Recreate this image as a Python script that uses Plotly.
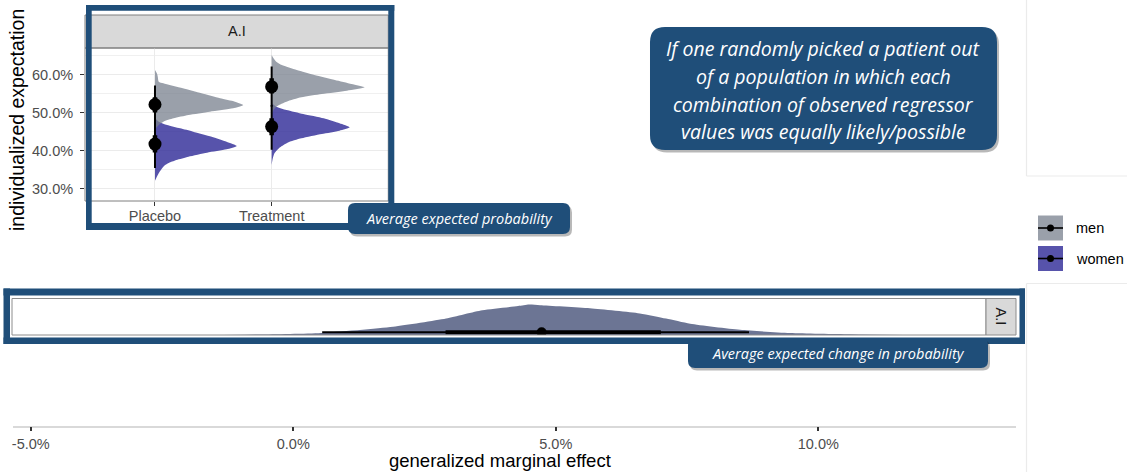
import plotly.graph_objects as go

W, H = 1127, 472

# ---------------- data ----------------
conditions = ["Placebo", "Treatment"]
cond_pos = [1, 2]
groups = ["men", "women"]

# individualized expectation: half-eye density outlines (value, relative density)
pl_men_val = [0.6118, 0.603, 0.5943, 0.5811, 0.5768, 0.5636, 0.5504, 0.5373, 0.5285, 0.5197,
              0.5110, 0.5022, 0.4934, 0.4847, 0.4759, 0.4671, 0.4583, 0.4496]
pl_men_den = [0, .02, .03, .04, .09, .30, .50, .70, .86, .95, .84, .59, .36, .20, .09, .04, .01, 0]
pl_wom_val = [0.4847, 0.4759, 0.4671, 0.4583, 0.4496, 0.4364, 0.4232, 0.4118, 0.4031, 0.3943,
              0.3838, 0.3750, 0.3662, 0.3575, 0.3443, 0.3311, 0.3206]
pl_wom_den = [0, .04, .13, .27, .41, .61, .77, .88, .77, .56, .36, .23, .14, .09, .05, .02, 0]
tr_men_val = [0.6513, 0.6426, 0.6338, 0.625, 0.6118, 0.5987, 0.5855, 0.575, 0.5662, 0.5574,
              0.5487, 0.5399, 0.5285, 0.5171, 0.5066, 0.4961]
tr_men_den = [0, .02, .05, .11, .27, .46, .68, .86, 1.0, .81, .54, .32, .16, .06, .02, 0]
tr_wom_val = [0.5241, 0.5154, 0.5066, 0.4961, 0.4847, 0.4715, 0.4609, 0.4522, 0.4434, 0.432,
              0.4206, 0.4083, 0.3926, 0.3768, 0.3618]
tr_wom_den = [0, .05, .16, .34, .56, .73, .84, .73, .54, .32, .17, .09, .03, .01, 0]

# point estimates and intervals  [placebo, treatment]
men_point = [0.521, 0.568]
men_lo66 = [0.500, 0.550]
men_hi66 = [0.540, 0.590]
men_lo95 = [0.470, 0.515]
men_hi95 = [0.571, 0.621]
wom_point = [0.417, 0.463]
wom_lo66 = [0.395, 0.440]
wom_hi66 = [0.440, 0.485]
wom_lo95 = [0.354, 0.402]
wom_hi95 = [0.475, 0.520]

# generalized marginal effect density
me_val = [-0.0147, -0.0063, 0.0053, 0.0190, 0.0291, 0.0360, 0.0428, 0.0449, 0.0470, 0.0565,
          0.0660, 0.0710, 0.0756, 0.0851, 0.0946, 0.1060, 0.1188]
me_den = [0, .017, .068, .27, .54, .81, .95, 1.0, .98, .88, .71, .54, .37, .17, .068, .027, 0]
me_point = 0.0473
me_lo66, me_hi66 = 0.029, 0.070
me_lo95, me_hi95 = 0.0055, 0.0868

y_ticks = [0.3, 0.4, 0.5, 0.6]
x_ticks = [-0.05, 0.0, 0.05, 0.10]
x_ticktext = [f"{v * 100:.1f}%" for v in x_ticks]

# ---------------- style ----------------
MEN_FILL = "rgba(120,128,142,0.75)"
WOM_FILL = "rgba(45,40,150,0.80)"
ME_FILL = "rgb(108,117,148)"
BLUE = "#1F4E79"
FONT = "Liberation Sans, Arial, sans-serif"
CFONT = "Open Sans, sans-serif"
WSCALE = 0.797


def px(x):
    return x / W


def py(y):
    return 1 - y / H


fig = go.Figure()

# densities (women first, men on top)
dens_sets = [
    (1, pl_wom_val, pl_wom_den, WOM_FILL),
    (2, tr_wom_val, tr_wom_den, WOM_FILL),
    (1, pl_men_val, pl_men_den, MEN_FILL),
    (2, tr_men_val, tr_men_den, MEN_FILL),
]
for base, vals, dens, col in dens_sets:
    fig.add_trace(go.Scatter(
        x=[base + d * WSCALE for d in dens], y=vals, mode="lines", fill="toself",
        fillcolor=col, line=dict(width=0, shape="spline", smoothing=0.6),
        hoverinfo="skip", showlegend=False, xaxis="x", yaxis="y"))

# intervals
for i, c in enumerate(cond_pos):
    for lo95, hi95, lo66, hi66, pt in [
        (men_lo95, men_hi95, men_lo66, men_hi66, men_point),
        (wom_lo95, wom_hi95, wom_lo66, wom_hi66, wom_point),
    ]:
        fig.add_trace(go.Scatter(x=[c, c], y=[lo95[i], hi95[i]], mode="lines",
                                 line=dict(color="black", width=2), showlegend=False,
                                 hoverinfo="skip", xaxis="x", yaxis="y"))
        fig.add_trace(go.Scatter(x=[c, c], y=[lo66[i], hi66[i]], mode="lines",
                                 line=dict(color="black", width=4.5), showlegend=False,
                                 hoverinfo="skip", xaxis="x", yaxis="y"))
        fig.add_trace(go.Scatter(x=[c], y=[pt[i]], mode="markers",
                                 marker=dict(color="black", size=13), showlegend=False,
                                 hoverinfo="skip", xaxis="x", yaxis="y"))

# marginal effect density
fig.add_trace(go.Scatter(x=me_val, y=me_den, mode="lines", fill="toself", fillcolor=ME_FILL,
                         line=dict(width=0, shape="spline", smoothing=0.6), hoverinfo="skip",
                         showlegend=False, xaxis="x2", yaxis="y2"))
IY = 0.09
fig.add_trace(go.Scatter(x=[me_lo95, me_hi95], y=[IY, IY], mode="lines",
                         line=dict(color="black", width=2), showlegend=False, hoverinfo="skip",
                         xaxis="x2", yaxis="y2"))
fig.add_trace(go.Scatter(x=[me_lo66, me_hi66], y=[IY, IY], mode="lines",
                         line=dict(color="black", width=4), showlegend=False, hoverinfo="skip",
                         xaxis="x2", yaxis="y2"))
fig.add_trace(go.Scatter(x=[me_point], y=[IY], mode="markers",
                         marker=dict(color="black", size=10), showlegend=False, hoverinfo="skip",
                         xaxis="x2", yaxis="y2"))
# dummy for bottom axis
fig.add_trace(go.Scatter(x=[0], y=[0.5], mode="markers", marker=dict(opacity=0),
                         showlegend=False, hoverinfo="skip", xaxis="x3", yaxis="y3"))

tickfont = dict(family=FONT, size=14.5, color="#4D4D4D")
fig.update_layout(
    width=W, height=H, margin=dict(l=0, r=0, t=0, b=0),
    paper_bgcolor="white", plot_bgcolor="white", showlegend=False,
    xaxis=dict(domain=[px(85), px(388.3)], range=[0.4, 3.0], tickvals=cond_pos,
               ticktext=conditions, ticks="outside", ticklen=4, tickcolor="#333333",
               tickfont=tickfont, showgrid=True, gridcolor="#EBEBEB", gridwidth=1.3,
               ticklabelstandoff=-2,
               zeroline=False, showline=False, anchor="y", fixedrange=True),
    yaxis=dict(domain=[py(201), py(48)], range=[0.2671, 0.6697], tickvals=y_ticks,
               tickformat=".1%", ticks="outside", ticklen=4, tickcolor="#333333",
               tickfont=tickfont, showgrid=True, gridcolor="#EBEBEB", gridwidth=1.3,
               ticklabelstandoff=4,
               minor=dict(tickvals=[0.35, 0.45, 0.55, 0.65], showgrid=True,
                          gridcolor="#F0F0F0", gridwidth=1),
               zeroline=False, showline=False, anchor="x", fixedrange=True),
    xaxis2=dict(domain=[px(12), px(986)], range=[-0.05358, 0.13194], visible=False,
                anchor="y2"),
    yaxis2=dict(domain=[py(335), py(298.5)], range=[0, 1.2], visible=False, anchor="x2"),
    xaxis3=dict(domain=[px(13), px(1016)], range=[-0.05339, 0.13766], tickvals=x_ticks,
                ticktext=x_ticktext, ticks="outside", ticklen=4, tickcolor="#333333",
                tickwidth=1.5, tickfont=tickfont, showline=True, linecolor="#D9D9D9",
                linewidth=1.5, showgrid=False, zeroline=False, anchor="y3"),
    yaxis3=dict(domain=[py(425.5), py(418)], range=[0, 1], visible=False, anchor="x3"),
)

shapes = []
annos = []


def rect(x0, y0, x1, y1, fill=None, line=None, lw=0, layer="above"):
    shapes.append(dict(type="rect", xref="paper", yref="paper", x0=px(x0), x1=px(x1),
                       y0=py(y1), y1=py(y0), fillcolor=fill or "rgba(0,0,0,0)",
                       line=dict(color=line or "rgba(0,0,0,0)", width=lw), layer=layer))


def hline(x0, x1, y, col, lw):
    shapes.append(dict(type="line", xref="paper", yref="paper", x0=px(x0), x1=px(x1),
                       y0=py(y), y1=py(y), line=dict(color=col, width=lw), layer="above"))


def vline(x, y0, y1, col, lw):
    shapes.append(dict(type="line", xref="paper", yref="paper", x0=px(x), x1=px(x),
                       y0=py(y0), y1=py(y1), line=dict(color=col, width=lw), layer="above"))


def rpath(x0, y0, x1, y1, r):
    def P(x, y):
        return f"{px(x):.5f},{py(y):.5f}"
    return (f"M {P(x0 + r, y0)} L {P(x1 - r, y0)} Q {P(x1, y0)} {P(x1, y0 + r)} "
            f"L {P(x1, y1 - r)} Q {P(x1, y1)} {P(x1 - r, y1)} L {P(x0 + r, y1)} "
            f"Q {P(x0, y1)} {P(x0, y1 - r)} L {P(x0, y0 + r)} Q {P(x0, y0)} {P(x0 + r, y0)} Z")


def rbox(x0, y0, x1, y1, r):
    shapes.append(dict(type="path", xref="paper", yref="paper",
                       path=rpath(x0 + 2, y0 + 2.5, x1 + 2, y1 + 2.5, r),
                       fillcolor="rgba(0,0,0,0.28)", line=dict(width=0), layer="above"))
    shapes.append(dict(type="path", xref="paper", yref="paper",
                       path=rpath(x0, y0, x1, y1, r), fillcolor=BLUE,
                       line=dict(width=0), layer="above"))


def text(x, y, t, size, color="black", family=FONT, angle=0):
    annos.append(dict(xref="paper", yref="paper", x=px(x), y=py(y), text=t, showarrow=False,
                      xanchor="center", yanchor="middle", textangle=angle,
                      font=dict(family=family, size=size, color=color)))


# light frames of right-hand areas
vline(1026.5, 0, 176, "#EBEBEB", 1.2)
hline(1026.5, 1127, 176, "#EBEBEB", 1.2)
hline(1026.5, 1127, 283.5, "#EBEBEB", 1.2)
vline(1026.5, 283.5, 472, "#EBEBEB", 1.2)

# top inset: strip, panel border
rect(85, 15, 388.3, 48, fill="#D9D9D9", line="#7F7F7F", lw=1, layer="below")
rect(85, 48, 388.3, 201, line="#7F7F7F", lw=1)
text(236.7, 31.5, "A.I", 14.5, color="#1A1A1A")
# blue frame around inset
rect(86, 5, 91.7, 230, fill=BLUE)
rect(388.3, 5, 394.3, 230, fill=BLUE)
rect(86, 5, 394.3, 10.7, fill=BLUE)
rect(86, 223, 394.3, 230, fill=BLUE)

# bottom panel
rect(12, 298.5, 986, 335, line="#8C8C8C", lw=1)
rect(986, 298.5, 1016, 335, fill="#D9D9D9", line="#8C8C8C", lw=1)
text(1001, 316.5, "A.I", 14.5, color="#1A1A1A", angle=90)
rect(3.5, 288.5, 1025, 295.5, fill=BLUE)
rect(3.5, 337.5, 1025, 344, fill=BLUE)
rect(3.5, 288.5, 10, 344, fill=BLUE)
rect(1019.5, 288.5, 1025, 344, fill=BLUE)

# axis titles
text(17, 120, "individualized expectation", 19.5, angle=-90)
text(500, 460.5, "generalized marginal effect", 18.5)

# legend
for (lbl, col, yc) in [("men", "#9AA0AA", 228), ("women", "#5753AB", 258.5)]:
    rect(1038, yc - 12.5, 1063, yc + 12.5, fill=col)
    hline(1038, 1063, yc, "black", 1.6)
    shapes.append(dict(type="circle", xref="paper", yref="paper", x0=px(1047), x1=px(1054),
                       y0=py(yc + 3.5), y1=py(yc - 3.5), fillcolor="black",
                       line=dict(width=0), layer="above"))
    annos.append(dict(xref="paper", yref="paper", x=px(1074), y=py(yc), text=lbl,
                      showarrow=False, xanchor="left", yanchor="middle",
                      font=dict(family=FONT, size=14.5, color="black")))

# call-out boxes
rbox(650, 27, 997, 150, 15)
for t, yy in [("If one randomly picked a patient out", 48.5),
              ("of a population in which each", 76.7),
              ("combination of observed regressor", 105),
              ("values was equally likely/possible", 132)]:
    text(823.5, yy, f"<i>{t}</i>", 19.5, color="white", family=CFONT)

rbox(348, 203, 570, 234, 7)
text(459, 218.5, "<i>Average expected probability</i>", 14.5, color="white", family=CFONT)
rbox(688, 338, 988, 368, 7)
text(838, 353, "<i>Average expected change in probability</i>", 14.5, color="white",
     family=CFONT)

fig.update_layout(shapes=shapes, annotations=annos)
fig.write_html("out.html", config={"displayModeBar": False},
               post_script="document.body.style.margin='0px';")
